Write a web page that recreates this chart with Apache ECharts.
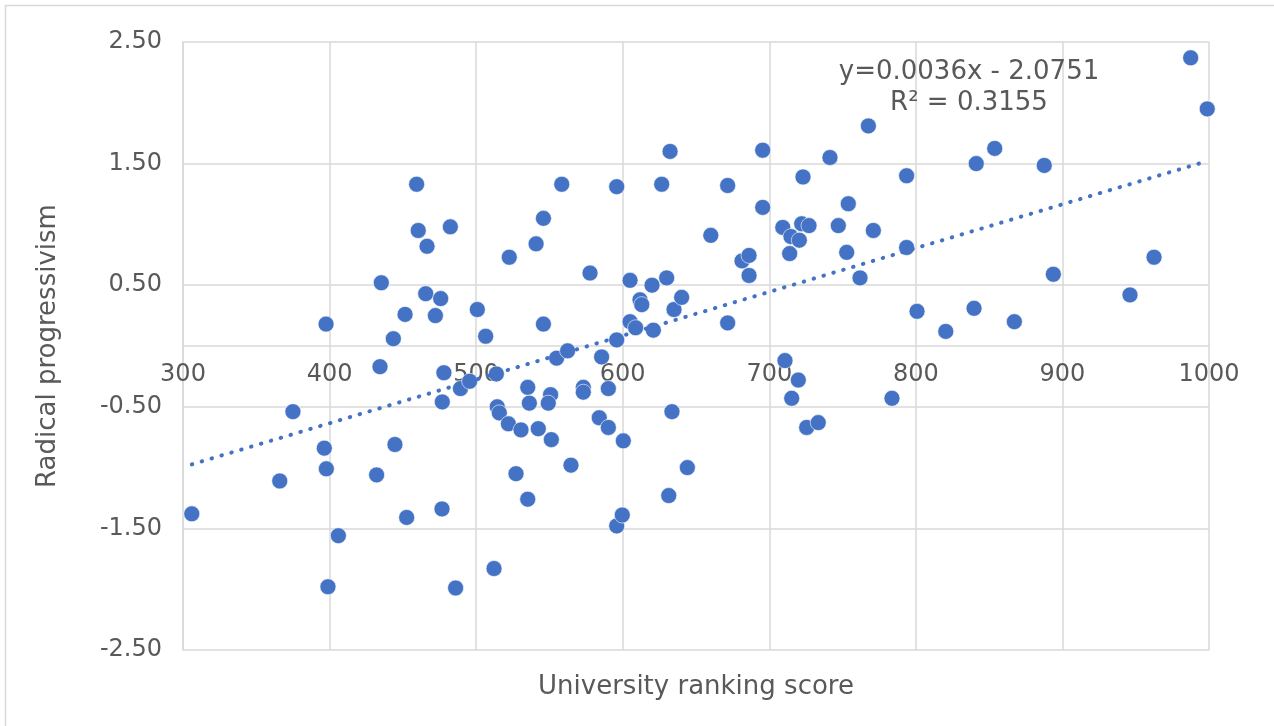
<!DOCTYPE html>
<html>
<head>
<meta charset="utf-8">
<script src="https://cdn.jsdelivr.net/npm/echarts@6/dist/echarts.min.js"></script>
<style>
html,body{margin:0;padding:0;background:#fff;}
#chart{width:1274px;height:726px;}
</style>
</head>
<body>
<div id="chart"></div>
<script>
// University ranking score (x) for each university
const rankingScores = [
  306, 366, 375, 397.6, 396.4, 397.8, 398.9, 406, 435.3, 434.4,
  432.1, 443.5, 444.6, 451.5, 452.6, 459.4, 460.5, 466.5, 465.6, 472.2,
  475.8, 478, 476.9, 476.7, 482.4, 489.3, 486, 500.8, 506.5, 495.6,
  513.8, 514.4, 515.8, 522, 530.6, 527.2, 535.2, 512.2, 522.6, 535.2,
  536.3, 540.9, 545.9, 545.9, 542.4, 550.8, 549.2, 551.3, 554.9, 558.4,
  562.4, 564.7, 573.1, 573.1, 577.7, 584, 585.6, 590.2, 590.2, 595.9,
  595.9, 595.9, 599.7, 600.4, 605, 605, 608.8, 611.8, 613, 620,
  620.9, 626.6, 630, 631.4, 632.3, 633.6, 635, 640.2, 644.1, 660.1,
  671.6, 671.6, 681.4, 686.2, 686.2, 695.5, 695.5, 709.2, 714.8, 720.5,
  713.9, 722.1, 727.1, 723, 710.7, 719.8, 715.3, 725.5, 733.4, 741.4,
  747.1, 752.8, 753.9, 761.9, 767.6, 771, 783.7, 793.7, 793.7, 800.8,
  820.4, 839.7, 841.2, 853.8, 867.2, 887.6, 893.8, 946.1, 962.5, 987.5,
  998.8
];
// Radical progressivism (y) for each university
const progressivism = [
  -1.38, -1.11, -0.54, 0.18, -0.84, -1.01, -1.98, -1.56, 0.52, -0.17,
  -1.06, 0.06, -0.81, 0.26, -1.41, 1.33, 0.95, 0.82, 0.43, 0.25,
  0.39, -0.22, -0.46, -1.34, 0.98, -0.35, -1.99, 0.30, 0.08, -0.29,
  -0.23, -0.50, -0.55, -0.64, -0.69, -1.05, -1.26, -1.83, 0.73, -0.34,
  -0.47, 0.84, 1.05, 0.18, -0.68, -0.40, -0.47, -0.77, -0.10, 1.33,
  -0.04, -0.98, -0.34, -0.38, 0.60, -0.59, -0.09, -0.35, -0.67, 1.31,
  0.05, -1.48, -1.39, -0.78, 0.54, 0.20, 0.15, 0.38, 0.34, 0.50,
  0.13, 1.33, 0.56, -1.23, 1.60, -0.54, 0.30, 0.40, -1.00, 0.91,
  1.32, 0.19, 0.70, 0.745, 0.58, 1.61, 1.14, 0.975, 0.90, 0.87,
  0.76, 1.005, 0.99, 1.39, -0.12, -0.28, -0.43, -0.67, -0.63, 1.55,
  0.99, 0.77, 1.17, 0.56, 1.81, 0.95, -0.43, 1.40, 0.81, 0.285,
  0.12, 0.31, 1.50, 1.625, 0.20, 1.485, 0.59, 0.42, 0.73, 2.37,
  1.95
];
// Linear trendline as reported on the chart
const trendSlope = 0.0036;
const trendIntercept = -2.0751;
const trendR2 = 0.3155;
const xTickLabels = ['300','400','500','600','700','800','900','1000'];
const yTickLabels = ['-2.50','-1.50','-0.50','0.50','1.50','2.50'];
const xTitle = 'University ranking score';
const yTitle = 'Radical progressivism';

const points = rankingScores.map((x, i) => [x, progressivism[i]]);
const xMin = Math.min(...rankingScores);
const xMax = Math.max(...rankingScores);
const trendData = [
  [xMin, trendSlope * xMin + trendIntercept],
  [xMax, trendSlope * xMax + trendIntercept]
];
const eqLine1 = 'y=' + trendSlope.toFixed(4) + 'x - ' + Math.abs(trendIntercept).toFixed(4);
const eqLine2 = 'R\u00B2 = ' + trendR2.toFixed(4);

const FONT = 'DejaVu Sans';
const TXT = '#595959';
const GRID = '#d9d9d9';
const BLUE = '#4472C4';

const chart = echarts.init(document.getElementById('chart'), null, {renderer: 'canvas'});
chart.setOption({
  animation: false,
  backgroundColor: '#ffffff',
  grid: {left: 183, right: 65, top: 42, bottom: 76, containLabel: false},
  xAxis: {
    type: 'value', min: 300, max: 1000, interval: 100,
    offset: -304,
    axisLine: {show: true, onZero: false, lineStyle: {color: GRID, width: 1.5}},
    axisTick: {show: false},
    splitLine: {show: true, lineStyle: {color: GRID, width: 1.5}},
    axisLabel: {
      color: TXT, fontFamily: FONT, fontSize: 24, margin: 17,
      formatter: (v) => { const s = String(Math.round(v)); return xTickLabels.includes(s) ? s : ''; }
    }
  },
  yAxis: {
    type: 'value', min: -2.5, max: 2.5, interval: 1,
    axisLine: {show: true, onZero: false, lineStyle: {color: GRID, width: 1.5}},
    axisTick: {show: false},
    splitLine: {show: true, lineStyle: {color: GRID, width: 1.5}},
    axisLabel: {
      color: TXT, fontFamily: FONT, fontSize: 24, margin: 21,
      formatter: (v) => { const s = v.toFixed(2); return yTickLabels.includes(s) ? s : ''; }
    },
    name: yTitle, nameLocation: 'middle', nameGap: 122, nameRotate: 90,
    nameTextStyle: {color: TXT, fontFamily: FONT, fontSize: 26}
  },
  series: [
    {
      type: 'scatter', data: points, symbol: 'circle', symbolSize: 16,
      itemStyle: {color: BLUE, borderColor: '#ffffff', borderWidth: 0.6, opacity: 1},
      z: 2
    },
    {
      type: 'line', data: trendData, showSymbol: false, symbol: 'none',
      lineStyle: {color: BLUE, width: 4, type: [0.5, 9.8], cap: 'round'},
      z: 3, silent: true
    }
  ],
  graphic: [
    {
      type: 'rect', z: 100, silent: true,
      shape: {x: 5.5, y: 5.5, width: 1300, height: 760},
      style: {fill: null, stroke: '#d9d9d9', lineWidth: 1.5}
    },
    {
      type: 'text', x: 969, y: 72, z: 100, silent: true,
      style: {
        text: eqLine1, fill: TXT, fontSize: 26, fontFamily: FONT,
        align: 'center', verticalAlign: 'middle'
      }
    },
    {
      type: 'text', x: 969, y: 103, z: 100, silent: true,
      style: {
        text: eqLine2, fill: TXT, fontSize: 26, fontFamily: FONT,
        align: 'center', verticalAlign: 'middle'
      }
    },
    {
      type: 'text', x: 696, y: 687, z: 100, silent: true,
      style: {
        text: xTitle, fill: TXT, fontSize: 26, fontFamily: FONT,
        align: 'center', verticalAlign: 'middle'
      }
    }
  ]
});
</script>
</body>
</html>
